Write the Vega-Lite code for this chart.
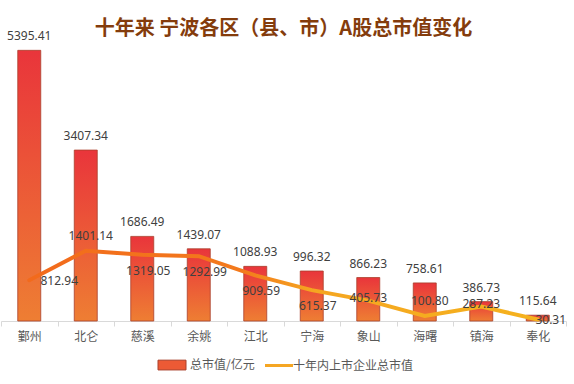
{
  "$schema": "https://vega.github.io/schema/vega-lite/v6.json",
  "width": 565,
  "height": 301,
  "autosize": "none",
  "padding": {"left": 1, "top": 20, "right": 8, "bottom": 63},
  "background": "white",
  "title": {
    "text": "十年来 宁波各区（县、市）A股总市值变化",
    "font": "Noto Sans CJK SC",
    "fontSize": 20,
    "fontWeight": "bold",
    "color": "#843C0C",
    "anchor": "middle",
    "offset": 0,
    "dy": 19
  },
  "config": {
    "view": {"stroke": null},
    "font": "Noto Sans CJK SC"
  },
  "data": {
    "values": [
      {"区": "鄞州", "总市值/亿元": 5395.41, "十年内上市企业总市值": 812.94},
      {"区": "北仑", "总市值/亿元": 3407.34, "十年内上市企业总市值": 1401.14},
      {"区": "慈溪", "总市值/亿元": 1686.49, "十年内上市企业总市值": 1319.05},
      {"区": "余姚", "总市值/亿元": 1439.07, "十年内上市企业总市值": 1292.99},
      {"区": "江北", "总市值/亿元": 1088.93, "十年内上市企业总市值": 909.59},
      {"区": "宁海", "总市值/亿元": 996.32, "十年内上市企业总市值": 615.37},
      {"区": "象山", "总市值/亿元": 866.23, "十年内上市企业总市值": 405.73},
      {"区": "海曙", "总市值/亿元": 758.61, "十年内上市企业总市值": 100.80},
      {"区": "镇海", "总市值/亿元": 386.73, "十年内上市企业总市值": 287.23},
      {"区": "奉化", "总市值/亿元": 115.64, "十年内上市企业总市值": 30.31}
    ]
  },
  "encoding": {
    "x": {
      "field": "区",
      "type": "nominal",
      "sort": null,
      "scale": {"paddingInner": 0, "paddingOuter": 0},
      "axis": {
        "title": null,
        "labelAngle": 0,
        "labelFont": "Noto Sans CJK SC",
        "labelFontSize": 12,
        "labelColor": "#595959",
        "labelPadding": 5,
        "domainColor": "#D9D9D9",
        "domainWidth": 1,
        "tickColor": "#D9D9D9",
        "tickSize": 5,
        "tickBand": "extent",
        "grid": false
      }
    }
  },
  "layer": [
    {
      "mark": {
        "type": "bar",
        "size": 23,
        "fill": {
          "gradient": "linear",
          "x1": 0, "y1": 0, "x2": 0, "y2": 1,
          "stops": [
            {"offset": 0, "color": "#E9353B"},
            {"offset": 1, "color": "#EE7E33"}
          ]
        },
        "stroke": "#A9402C",
        "strokeWidth": 0.8
      },
      "encoding": {
        "y": {
          "field": "总市值/亿元",
          "type": "quantitative",
          "scale": {"domain": [0, 6000], "nice": false},
          "axis": null
        }
      }
    },
    {
      "mark": {"type": "text", "dy": -10, "baseline": "alphabetic", "fontSize": 12, "font": "Noto Sans", "color": "#404040"},
      "encoding": {
        "y": {"field": "总市值/亿元", "type": "quantitative"},
        "text": {"field": "总市值/亿元", "type": "quantitative", "format": ".2f"}
      }
    },
    {
      "mark": {
        "type": "line",
        "strokeWidth": 4,
        "strokeCap": "round",
        "stroke": {
          "gradient": "linear",
          "x1": 0, "y1": 0, "x2": 1, "y2": 0,
          "stops": [
            {"offset": 0, "color": "#F26A1C"},
            {"offset": 0.42, "color": "#F37A1C"},
            {"offset": 0.56, "color": "#F5A621"},
            {"offset": 1, "color": "#F5B21E"}
          ]
        }
      },
      "encoding": {
        "y": {"field": "十年内上市企业总市值", "type": "quantitative"}
      }
    },
    {
      "transform": [{"filter": "indexof(['慈溪','余姚','江北','宁海'], datum['区']) >= 0"}],
      "mark": {"type": "text", "dx": 6, "dy": 16, "baseline": "middle", "fontSize": 12, "font": "Noto Sans", "color": "#404040"},
      "encoding": {
        "y": {"field": "十年内上市企业总市值", "type": "quantitative"},
        "text": {"field": "十年内上市企业总市值", "type": "quantitative", "format": ".2f"}
      }
    },
    {
      "transform": [{"filter": "indexof(['北仑','海曙'], datum['区']) >= 0"}],
      "mark": {"type": "text", "dx": 5, "dy": -15, "baseline": "middle", "fontSize": 12, "font": "Noto Sans", "color": "#404040"},
      "encoding": {
        "y": {"field": "十年内上市企业总市值", "type": "quantitative"},
        "text": {"field": "十年内上市企业总市值", "type": "quantitative", "format": ".2f"}
      }
    },
    {
      "transform": [{"filter": "indexof(['象山','镇海'], datum['区']) >= 0"}],
      "mark": {"type": "text", "dx": 0, "dy": -3, "baseline": "middle", "fontSize": 12, "font": "Noto Sans", "color": "#404040"},
      "encoding": {
        "y": {"field": "十年内上市企业总市值", "type": "quantitative"},
        "text": {"field": "十年内上市企业总市值", "type": "quantitative", "format": ".2f"}
      }
    },
    {
      "transform": [{"filter": "datum['区'] === '鄞州'"}],
      "mark": {"type": "text", "dx": 30, "dy": 1, "baseline": "middle", "fontSize": 12, "font": "Noto Sans", "color": "#404040"},
      "encoding": {
        "y": {"field": "十年内上市企业总市值", "type": "quantitative"},
        "text": {"field": "十年内上市企业总市值", "type": "quantitative", "format": ".2f"}
      }
    },
    {
      "transform": [{"filter": "datum['区'] === '奉化'"}],
      "mark": {"type": "text", "dx": 13, "dy": 1, "baseline": "middle", "fontSize": 12, "font": "Noto Sans", "color": "#404040"},
      "encoding": {
        "y": {"field": "十年内上市企业总市值", "type": "quantitative"},
        "text": {"field": "十年内上市企业总市值", "type": "quantitative", "format": ".2f"}
      }
    },
    {
      "transform": [{"fold": ["总市值/亿元", "十年内上市企业总市值"], "as": ["series", "val"]}],
      "mark": {"type": "point", "opacity": 0, "filled": true},
      "encoding": {
        "y": {"field": "val", "type": "quantitative"},
        "color": {
          "field": "series",
          "type": "nominal",
          "scale": {"domain": ["总市值/亿元", "十年内上市企业总市值"], "range": ["#EC5A35", "#F5A623"]},
          "legend": {
            "title": null,
            "orient": "none",
            "legendX": 165,
            "legendY": 339,
            "direction": "horizontal",
            "padding": 0,
            "labelFont": "Noto Sans CJK SC",
            "labelFontSize": 12,
            "labelColor": "#595959",
            "labelOffset": 12,
            "columnPadding": 4,
            "encode": {
              "symbols": {
                "update": {
                  "shape": {"signal": "datum.value === '总市值/亿元' ? 'M-1,-0.35H1V0.35H-1Z' : 'stroke'"},
                  "size": {"value": 784},
                  "fill": {"signal": "datum.value === '总市值/亿元' ? '#EC5A35' : 'transparent'"},
                  "stroke": {"signal": "datum.value === '总市值/亿元' ? '#A9402C' : '#F5A623'"},
                  "strokeWidth": {"signal": "datum.value === '总市值/亿元' ? 1 : 3"},
                  "opacity": {"value": 1}
                }
              },
              "labels": {
                "update": {
                  "dx": {"signal": "datum.value === '总市值/亿元' ? 0 : -4"}
                }
              }
            }
          }
        }
      }
    }
  ]
}
